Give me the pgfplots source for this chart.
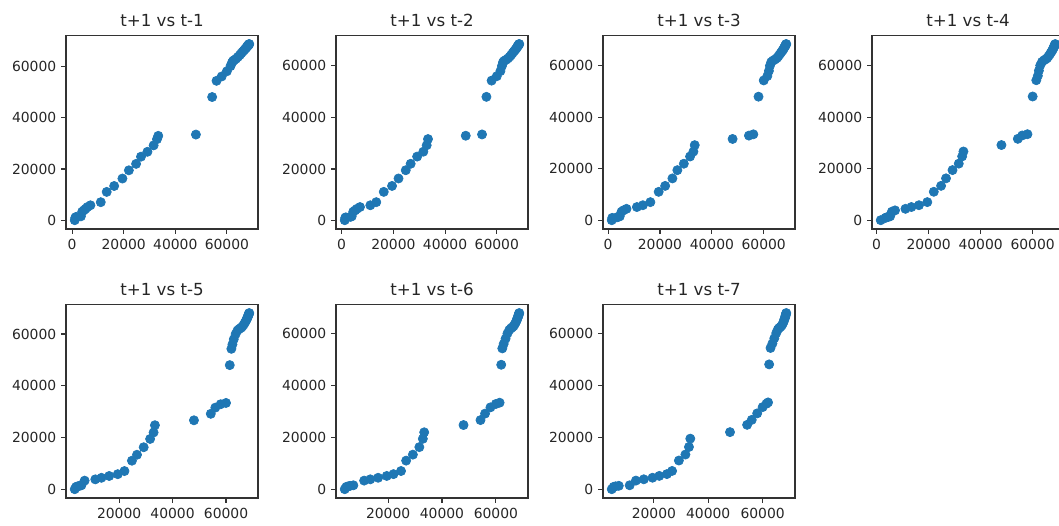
\documentclass[border=0pt]{standalone}
\usepackage{fontspec}
\setmainfont{DejaVu Sans}
\usepackage{pgfplots}
\usepackage{pgfplotstable}
\pgfplotsset{compat=1.18}
\definecolor{c0}{HTML}{1F77B4}

% y = value at t+1, xk = value at t-k (lagged series)
\pgfplotstableread{
y x1 x2 x3 x4 x5 x6 x7
100 1000 1200 1400 1600 3400 3900 4500
1000 1200 1400 1600 3400 3900 4500 5200
1200 1400 1600 3400 3900 4500 5200 5900
1400 1600 3400 3900 4500 5200 5900 7100
1600 3400 3900 4500 5200 5900 7100 11100
3400 3900 4500 5200 5900 7100 11100 13400
3900 4500 5200 5900 7100 11100 13400 16300
4500 5200 5900 7100 11100 13400 16300 19500
5200 5900 7100 11100 13400 16300 19500 22000
5900 7100 11100 13400 16300 19500 22000 24800
7100 11100 13400 16300 19500 22000 24800 26700
11100 13400 16300 19500 22000 24800 26700 29200
13400 16300 19500 22000 24800 26700 29200 31600
16300 19500 22000 24800 26700 29200 31600 32900
19500 22000 24800 26700 29200 31600 32900 33400
22000 24800 26700 29200 31600 32900 33400 48000
24800 26700 29200 31600 32900 33400 48000 54300
26700 29200 31600 32900 33400 48000 54300 56000
29200 31600 32900 33400 48000 54300 56000 58000
31600 32900 33400 48000 54300 56000 58000 60000
32900 33400 48000 54300 56000 58000 60000 61400
33400 48000 54300 56000 58000 60000 61400 62000
48000 54300 56000 58000 60000 61400 62000 62400
54300 56000 58000 60000 61400 62000 62400 62900
56000 58000 60000 61400 62000 62400 62900 63600
58000 60000 61400 62000 62400 62900 63600 64300
60000 61400 62000 62400 62900 63600 64300 65000
61400 62000 62400 62900 63600 64300 65000 65600
62000 62400 62900 63600 64300 65000 65600 66100
62400 62900 63600 64300 65000 65600 66100 66600
62900 63600 64300 65000 65600 66100 66600 67000
63600 64300 65000 65600 66100 66600 67000 67400
64300 65000 65600 66100 66600 67000 67400 67700
65000 65600 66100 66600 67000 67400 67700 67900
65600 66100 66600 67000 67400 67700 67900 68100
66100 66600 67000 67400 67700 67900 68100 68300
66600 67000 67400 67700 67900 68100 68300 68400
67000 67400 67700 67900 68100 68300 68400 68500
67400 67700 67900 68100 68300 68400 68500 68600
67700 67900 68100 68300 68400 68500 68600 68700
67900 68100 68300 68400 68500 68600 68700 nan
68100 68300 68400 68500 68600 68700 nan nan
68300 68400 68500 68600 68700 nan nan nan
68400 68500 68600 68700 nan nan nan nan
68500 68600 68700 nan nan nan nan nan
68600 68700 nan nan nan nan nan nan
}\lagdata

\pgfplotsset{
  lagpanel/.style={
    anchor=south west,
    scale only axis,
    width=138.24pt, height=139.5pt,
    enlarge x limits=0.05, enlarge y limits=0.05,
    xtick={0,20000,40000,60000},
    ytick={0,20000,40000,60000},
    scaled ticks=false,
    /pgf/number format/1000 sep={},
    /pgf/number format/assume math mode=true,
    tick align=outside, tick pos=left,
    major tick length=3.5pt,
    axis line style={black!80, line width=0.8pt},
    tick style={black!80, line width=0.8pt},
    ticklabel style={font=\fontsize{10}{12}\selectfont, text=black!85},
    title style={font=\fontsize{12}{14}\selectfont, text=black!85,
      at={(0.5,1)}, anchor=base, yshift=0.5pt, inner sep=0pt},
  },
  lagmarks/.style={only marks, mark=*, mark size=3.3pt,
    mark options={fill=c0, draw=c0, line width=0.5pt}},
}

\begin{document}
\begin{tikzpicture}
\useasboundingbox (0,0) rectangle (762.48pt,378pt);
\clip (0,0) rectangle (762.48pt,378pt);

\begin{axis}[lagpanel, at={(47.52pt,213.12pt)}, title={t+1 vs t-1}]
\addplot[lagmarks] table[x=x1, y=y] {\lagdata};
\end{axis}
\begin{axis}[lagpanel, at={(241.92pt,213.12pt)}, title={t+1 vs t-2}]
\addplot[lagmarks] table[x=x2, y=y] {\lagdata};
\end{axis}
\begin{axis}[lagpanel, at={(434.16pt,213.12pt)}, title={t+1 vs t-3}]
\addplot[lagmarks] table[x=x3, y=y] {\lagdata};
\end{axis}
\begin{axis}[lagpanel, at={(627.84pt,213.12pt)}, title={t+1 vs t-4}]
\addplot[lagmarks] table[x=x4, y=y] {\lagdata};
\end{axis}

\begin{axis}[lagpanel, at={(47.52pt,19.44pt)}, title={t+1 vs t-5}]
\addplot[lagmarks] table[x=x5, y=y] {\lagdata};
\end{axis}
\begin{axis}[lagpanel, at={(241.92pt,19.44pt)}, title={t+1 vs t-6}]
\addplot[lagmarks] table[x=x6, y=y] {\lagdata};
\end{axis}
\begin{axis}[lagpanel, at={(434.16pt,19.44pt)}, title={t+1 vs t-7}]
\addplot[lagmarks] table[x=x7, y=y] {\lagdata};
\end{axis}
\end{tikzpicture}
\end{document}
